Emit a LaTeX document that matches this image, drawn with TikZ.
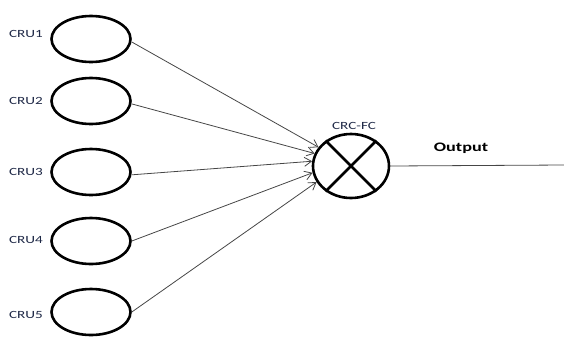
\documentclass[tikz,border=0pt]{standalone}
\usepackage{fontspec}
\setmainfont{Carlito}
\usetikzlibrary{shapes.geometric,arrows.meta}
\definecolor{lbl}{RGB}{30,40,70}
\definecolor{conn}{RGB}{70,70,70}
\tikzset{
  unit/.style={ellipse,draw=black,line width=2.6pt,minimum width=79pt,minimum height=46pt,inner sep=0pt},
  lab/.style={text=lbl,font=\fontsize{11}{12}\selectfont,inner sep=0pt,xscale=1.38},
  conn/.style={draw=conn,line width=0.8pt,-{Straight Barb[length=7pt,width=9pt]}},
}
\begin{document}
\begin{tikzpicture}[x=1pt,y=-1pt]
\useasboundingbox (0,0) rectangle (564,341);
\node[unit] (u1) at (91,39) {};
\node[unit] (u2) at (91,101) {};
\node[unit] (u3) at (91,172) {};
\node[unit] (u4) at (91,241) {};
\node[unit] (u5) at (91,312) {};
\node[lab,transform shape] (l1) at (26,34) {CRU1};
\node[lab,transform shape] (l2) at (26,101) {CRU2};
\node[lab,transform shape] (l3) at (26,172) {CRU3};
\node[lab,transform shape] (l4) at (26,240) {CRU4};
\node[lab,transform shape] (l5) at (26,315) {CRU5};
\node[ellipse,draw=black,line width=2.6pt,minimum width=76pt,minimum height=64pt,inner sep=0pt] (fc) at (351,166) {};
\draw[line width=2.6pt] (fc.45) -- (fc.225);
\draw[line width=2.6pt] (fc.135) -- (fc.315);
\node[lab,transform shape] (fcl) at (354,126) {CRC-FC};
\node[inner sep=0pt,font=\bfseries\fontsize{13}{14}\selectfont,xscale=1.4,transform shape] (out) at (461,148) {Output};
\coordinate (oend) at (564,165);
\draw[conn] (u1.-4) -- (fc.150);
\draw[conn] (u2.-4) -- (fc.161);
\draw[conn] (u3.-4) -- (fc.173);
\draw[conn] (u4.east) -- (fc.190);
\draw[conn] (u5.east) -- (fc.205);
\draw[conn,-] (fc.east) -- (oend);
\end{tikzpicture}
\end{document}
